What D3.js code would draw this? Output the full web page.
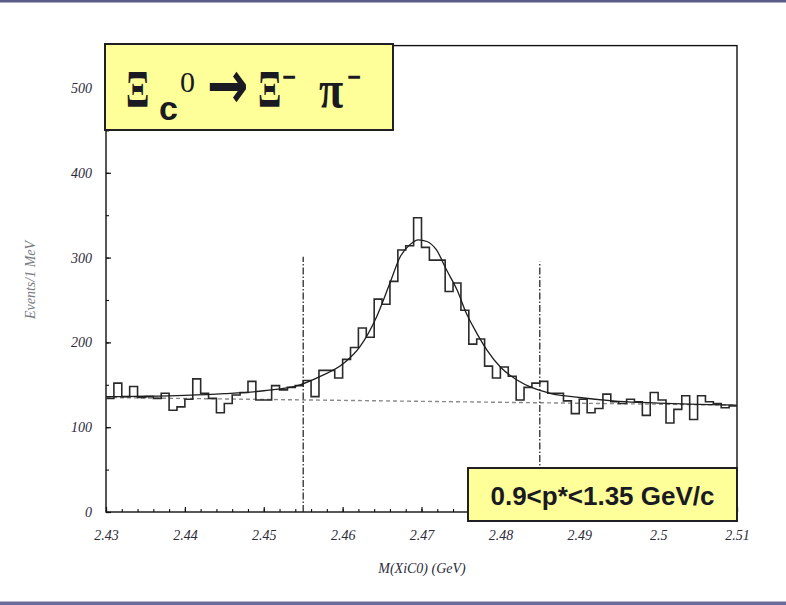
<!DOCTYPE html>
<html>
<head>
<meta charset="utf-8">
<script src="https://cdn.jsdelivr.net/npm/d3@7"></script>
<style>
  html, body { margin: 0; padding: 0; background: #ffffff; }
  svg { display: block; }
</style>
</head>
<body>
<svg id="chart" width="786" height="605"></svg>
<script>
// Xi_c0 -> Xi- pi- invariant-mass spectrum, 1 MeV bins from 2.430 GeV
const binLow = 2.430;
const binWidth = 0.001;
const counts = [
  134, 152, 136, 148, 135, 136, 134, 140, 120, 124,
  133, 157, 140, 134, 117, 128, 138, 141, 154, 132,
  132, 149, 144, 147, 149, 155, 136, 167, 167, 158,
  180, 194, 217, 206, 251, 245, 272, 309, 314, 347,
  312, 297, 297, 260, 270, 238, 198, 204, 172, 158,
  171, 160, 132, 147, 152, 154, 140, 140, 131, 116,
  133, 117, 122, 139, 130, 128, 133, 130, 114, 141,
  132, 105, 121, 137, 109, 137, 130, 128, 123, 125
];

// fitted signal + background curve
const fitMass = [
  2.430, 2.435, 2.440, 2.445, 2.450, 2.4546, 2.4571, 2.4601, 2.4622, 2.4643,
  2.4660, 2.4673, 2.4685, 2.4696, 2.4707, 2.4719, 2.4732, 2.4745, 2.4757, 2.4770,
  2.4783, 2.4800, 2.4821, 2.4842, 2.4863, 2.490, 2.495, 2.500, 2.505, 2.510
];
const fitValue = [
  136, 136.5, 137.5, 139.5, 143, 150, 159.6, 175, 195, 230,
  270, 301, 315, 321, 319, 309, 285, 262, 234, 211,
  191, 171, 155.7, 146, 140, 135, 130.5, 128.5, 127, 126
];

// fitted background alone
const bgMass = [2.430, 2.510];
const bgValue = [135, 126];

// signal window markers
const windowMass = [2.455, 2.485];
const windowTop = [301, 295];

// axis ticks
const xTickValues = [2.43, 2.44, 2.45, 2.46, 2.47, 2.48, 2.49, 2.50, 2.51];
const xTickLabels = ["2.43", "2.44", "2.45", "2.46", "2.47", "2.48", "2.49", "2.5", "2.51"];
const yTickValues = [0, 100, 200, 300, 400, 500];
const yTickLabels = ["0", "100", "200", "300", "400", "500"];

const svg = d3.select("#chart");

const x = d3.scaleLinear().domain([2.43, 2.51]).range([106, 737]);
const y = d3.scaleLinear().domain([0, 500]).range([512, 88]);

// slide bars
svg.append("rect").attr("x", 0).attr("y", 0).attr("width", 786).attr("height", 2.5).attr("fill", "#5c5c88");
svg.append("rect").attr("x", 0).attr("y", 601.5).attr("width", 786).attr("height", 3.5).attr("fill", "#6b6b9b");

const plot = svg.append("g");

// frame
plot.append("rect")
  .attr("x", x(2.43)).attr("y", y(550))
  .attr("width", x(2.51) - x(2.43)).attr("height", y(0) - y(550))
  .attr("fill", "none").attr("stroke", "#111").attr("stroke-width", 1.4);

// minor ticks
const xMinor = d3.range(0, 41).map(i => +(2.43 + i * 0.002).toFixed(3));
const yMinor = d3.range(0, 11).map(i => i * 50);

plot.append("g").attr("transform", `translate(0,${y(0)})`)
  .call(d3.axisBottom(x).tickValues(xMinor).tickSize(-3).tickFormat(""))
  .call(g => g.select(".domain").remove())
  .call(g => g.selectAll("line").attr("stroke", "#111").attr("stroke-width", 1.1));

plot.append("g").attr("transform", `translate(${x(2.43)},0)`)
  .call(d3.axisLeft(y).tickValues(yMinor).tickSize(-3).tickFormat(""))
  .call(g => g.select(".domain").remove())
  .call(g => g.selectAll("line").attr("stroke", "#111").attr("stroke-width", 1.1));

// major ticks with labels
plot.append("g").attr("transform", `translate(0,${y(0)})`)
  .call(d3.axisBottom(x).tickValues(xTickValues).tickSize(-5).tickPadding(18)
    .tickFormat((d, i) => xTickLabels[i]))
  .call(g => g.select(".domain").remove())
  .call(g => g.selectAll("line").attr("stroke", "#111").attr("stroke-width", 1.2))
  .call(g => g.selectAll("text")
    .attr("font-family", "'Liberation Serif', 'Times New Roman', serif")
    .attr("font-style", "italic").attr("font-size", 14).attr("fill", "#2b2b3a"));

plot.append("g").attr("transform", `translate(${x(2.43)},0)`)
  .call(d3.axisLeft(y).tickValues(yTickValues).tickSize(-5).tickPadding(14)
    .tickFormat((d, i) => yTickLabels[i]))
  .call(g => g.select(".domain").remove())
  .call(g => g.selectAll("line").attr("stroke", "#111").attr("stroke-width", 1.2))
  .call(g => g.selectAll("text")
    .attr("font-family", "'Liberation Serif', 'Times New Roman', serif")
    .attr("font-style", "italic").attr("font-size", 14).attr("fill", "#2b2b3a"));

// axis titles
svg.append("text")
  .attr("x", 422).attr("y", 573).attr("text-anchor", "middle")
  .attr("font-family", "'Liberation Serif', 'Times New Roman', serif")
  .attr("font-style", "italic").attr("font-size", 14).attr("fill", "#2b2b3a")
  .text("M(XiC0) (GeV)");

svg.append("text")
  .attr("transform", "translate(35,280) rotate(-90)")
  .attr("text-anchor", "middle")
  .attr("font-family", "'Liberation Serif', 'Times New Roman', serif")
  .attr("font-style", "italic").attr("font-size", 14).attr("fill", "#7a7a80")
  .text("Events/1 MeV");

// background fit (dashed)
const bgLine = d3.line().x(d => x(d[0])).y(d => y(d[1]));
plot.append("path")
  .attr("d", bgLine(bgMass.map((m, i) => [m, bgValue[i]])))
  .attr("fill", "none").attr("stroke", "#8a8a8a").attr("stroke-width", 1.4)
  .attr("stroke-dasharray", "4,3");

// signal window lines (dash-dot)
windowMass.forEach((m, i) => {
  plot.append("line")
    .attr("x1", x(m)).attr("x2", x(m))
    .attr("y1", y(0)).attr("y2", y(windowTop[i]))
    .attr("stroke", "#1a1a1a").attr("stroke-width", 1.2)
    .attr("stroke-dasharray", "7,2,1.5,2");
});

// histogram
const histPts = counts.map((c, i) => [binLow + i * binWidth, c]);
histPts.push([binLow + counts.length * binWidth, counts[counts.length - 1]]);
const stepLine = d3.line().x(d => x(d[0])).y(d => y(d[1])).curve(d3.curveStepAfter);
plot.append("path")
  .attr("d", stepLine(histPts))
  .attr("fill", "none").attr("stroke", "#2a2a2a").attr("stroke-width", 1.6);

// total fit curve
const fitLine = d3.line().x(d => x(d[0])).y(d => y(d[1])).curve(d3.curveMonotoneX);
plot.append("path")
  .attr("d", fitLine(fitMass.map((m, i) => [m, fitValue[i]])))
  .attr("fill", "none").attr("stroke", "#1e1e1e").attr("stroke-width", 1.3);

// decay title box
const tb = svg.append("g");
tb.append("rect").attr("x", 105).attr("y", 44).attr("width", 288).attr("height", 86)
  .attr("fill", "#ffff99").attr("stroke", "#1f1f24").attr("stroke-width", 2);
const serif = "'Liberation Serif', 'Times New Roman', serif";
const ink = "#1a1a22";
tb.append("text").attr("transform", "translate(126,107) scale(0.66,1)")
  .attr("font-family", serif).attr("font-weight", "bold").attr("font-size", 52).attr("fill", ink).text("Ξ");
tb.append("text").attr("x", 159).attr("y", 120)
  .attr("font-family", "'Liberation Sans', Arial, sans-serif").attr("font-weight", "bold")
  .attr("font-size", 34).attr("fill", ink).text("c");
tb.append("text").attr("x", 180).attr("y", 92)
  .attr("font-family", serif).attr("font-size", 30).attr("fill", ink).text("0");
tb.append("text").attr("transform", "translate(207,108) scale(0.95,1.3)")
  .attr("font-family", "'DejaVu Sans', sans-serif").attr("font-weight", "bold")
  .attr("font-size", 52).attr("fill", ink).text("→");
tb.append("text").attr("transform", "translate(258,107) scale(0.66,1)")
  .attr("font-family", serif).attr("font-weight", "bold").attr("font-size", 52).attr("fill", ink).text("Ξ");
tb.append("text").attr("transform", "translate(282,91) scale(0.6,1)")
  .attr("font-family", serif).attr("font-weight", "bold").attr("font-size", 42).attr("fill", ink).text("−");
tb.append("text").attr("transform", "translate(319,107) scale(0.85,1)")
  .attr("font-family", serif).attr("font-weight", "bold").attr("font-size", 52).attr("fill", ink).text("π");
tb.append("text").attr("transform", "translate(347,91) scale(0.6,1)")
  .attr("font-family", serif).attr("font-weight", "bold").attr("font-size", 42).attr("fill", ink).text("−");

// momentum range box
const mb = svg.append("g");
mb.append("rect").attr("x", 468).attr("y", 468).attr("width", 269).attr("height", 53)
  .attr("fill", "#ffff99").attr("stroke", "#1f1f24").attr("stroke-width", 2);
mb.append("text").attr("x", 602.5).attr("y", 504.5).attr("text-anchor", "middle")
  .attr("font-family", "'Liberation Sans', Arial, sans-serif").attr("font-weight", "bold")
  .attr("font-size", 26).attr("fill", ink).text("0.9<p*<1.35 GeV/c");
</script>
</body>
</html>
